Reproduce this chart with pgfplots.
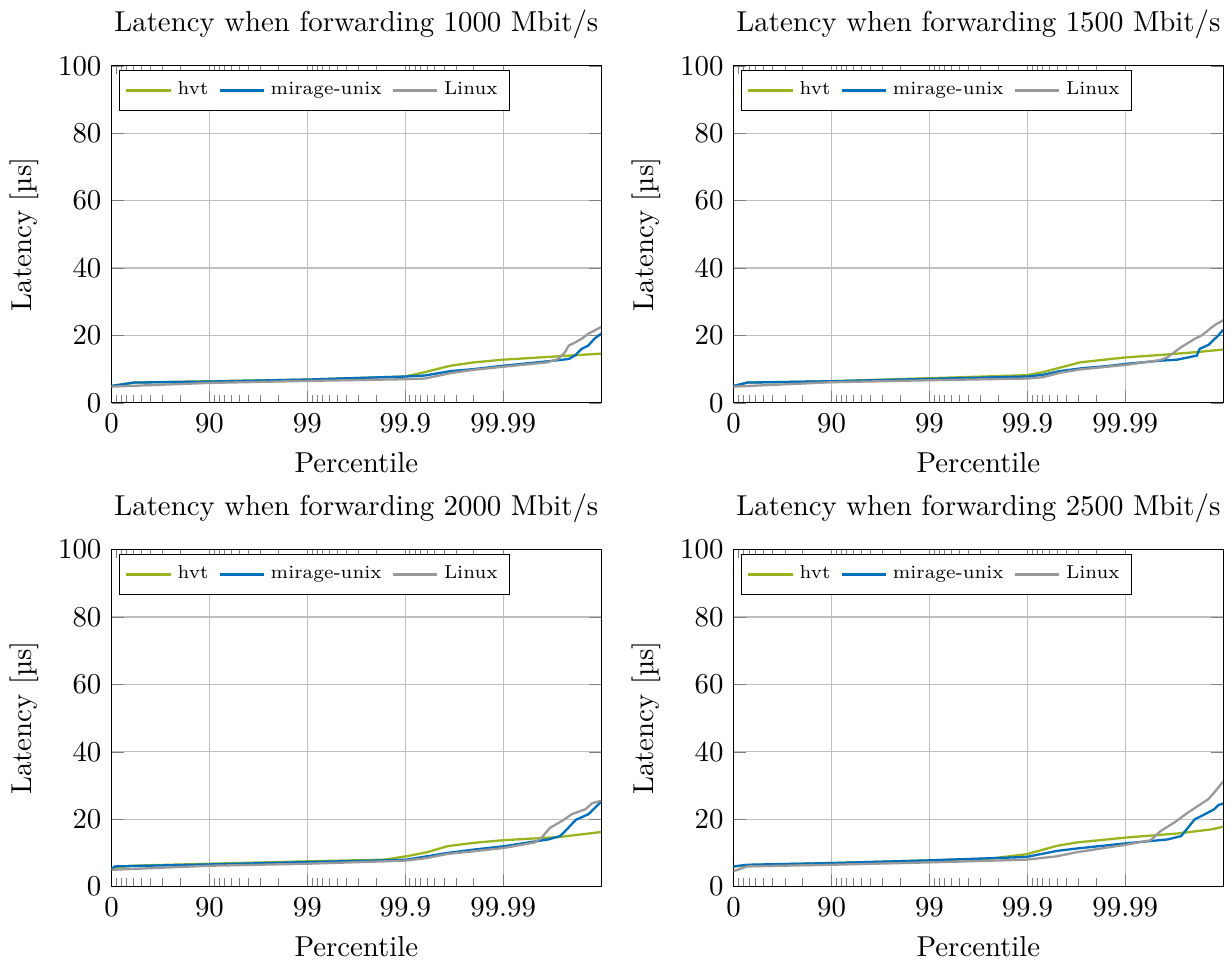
\documentclass[border=0pt]{standalone}
\usepackage{pgfplots}
\pgfplotsset{compat=1.18}
\usepgfplotslibrary{groupplots}

\definecolor{hvtgreen}{RGB}{152,180,30}
\definecolor{uniblue}{RGB}{0,112,190}
\definecolor{linuxgray}{RGB}{153,153,153}

\pgfplotsset{
  latplot/.style={
    scale only axis, width=170pt, height=117pt,
    xmin=0, xmax=5, ymin=0, ymax=100,
    xtick={0,1,2,3,4}, xticklabels={0,90,99,99.9,99.99},
    minor xtick={0.0458,0.0969,0.1549,0.2218,0.3010,0.3979,0.5229,0.6990,
                 1.0458,1.0969,1.1549,1.2218,1.3010,1.3979,1.5229,1.6990,
                 2.0458,2.0969,2.1549,2.2218,2.3010,2.3979,2.5229,2.6990,
                 3.0458,3.0969,3.1549,3.2218,3.3010,3.3979,3.5229,3.6990},
    ytick={0,20,40,60,80,100},
    xmajorgrids, ymajorgrids,
    xlabel={Percentile}, ylabel={Latency [\textmu s]},
    legend columns=3,
    legend image code/.code={\draw[mark repeat=2,mark phase=2] plot coordinates {(0cm,0cm) (0.27cm,0cm) (0.54cm,0cm)};},
    legend style={font=\fontsize{6.5}{7.5}\selectfont, at={(0.015,0.988)}, anchor=north west,
      inner sep=2pt,
      /tikz/every odd column/.append style={column sep=0pt},
      /tikz/every even column/.append style={column sep=1.5pt}},
    every axis plot/.append style={thick, no marks},
  },
}

\begin{document}
\begin{tikzpicture}
\begin{groupplot}[group style={group size=2 by 2, horizontal sep=46pt, vertical sep=51pt}, latplot]

\nextgroupplot[title={Latency when forwarding 1000 Mbit/s}]
\addplot[hvtgreen] coordinates {(0,5.0) (0.23,6.0) (1,6.4) (2,6.9) (3,7.8) (3.2,9.1) (3.46,11.0) (3.7,12.0) (4,12.8) (4.56,13.8) (5,14.6)};
\addplot[uniblue] coordinates {(0,5.0) (0.23,6.0) (1,6.3) (2,6.9) (3,7.8) (3.2,8.1) (3.46,9.4) (3.7,10) (4,11) (4.45,12.3) (4.67,13) (4.74,14.2) (4.8,16) (4.87,17) (4.93,19) (5,20.5)};
\addplot[linuxgray] coordinates {(0,4.8) (1,5.9) (2,6.5) (3,7.0) (3.2,7.2) (3.46,8.8) (3.7,9.8) (4,10.7) (4.45,12) (4.56,13) (4.63,15) (4.67,17) (4.74,18) (4.8,19) (4.87,20.5) (5,22.5)};
\legend{hvt,mirage-unix,Linux}

\nextgroupplot[title={Latency when forwarding 1500 Mbit/s}]
\addplot[hvtgreen] coordinates {(0,5.0) (0.14,6.0) (1,6.4) (2,7.3) (3,8.2) (3.16,9.1) (3.33,10.4) (3.54,12) (3.85,13) (4.02,13.5) (4.36,14.2) (4.71,15) (5,15.8)};
\addplot[uniblue] coordinates {(0,5.0) (0.14,6.0) (1,6.4) (2,7.1) (3,7.8) (3.16,8.3) (3.33,9.4) (3.54,10.2) (3.85,11) (4.02,11.6) (4.36,12.5) (4.53,12.8) (4.73,14) (4.76,16) (4.85,17.2) (4.95,20) (5,21.7)};
\addplot[linuxgray] coordinates {(0,4.8) (1,6.1) (2,6.7) (3,7.2) (3.16,7.6) (3.33,8.9) (3.54,9.9) (3.85,10.8) (4.02,11.3) (4.36,12.7) (4.43,13.5) (4.57,16.5) (4.71,19) (4.78,20) (4.91,23) (5,24.5)};
\legend{hvt,mirage-unix,Linux}

\nextgroupplot[title={Latency when forwarding 2000 Mbit/s}]
\addplot[hvtgreen] coordinates {(0,5.5) (0.2,6.2) (1,6.8) (2,7.5) (2.78,8.0) (3.01,9.0) (3.22,10.2) (3.43,12) (3.7,13) (4.01,13.8) (4.56,14.7) (5,16.2)};
\addplot[uniblue] coordinates {(0,5.0) (0.03,6.0) (1,6.6) (2,7.3) (2.78,7.8) (3.01,8.0) (3.22,9.0) (3.43,10) (3.7,11) (4.01,12) (4.32,13.4) (4.46,14) (4.58,15) (4.65,17) (4.74,19.8) (4.87,21.5) (5,25.2)};
\addplot[linuxgray] coordinates {(0,5.0) (1,6.2) (2,6.8) (3,7.7) (3.22,8.5) (3.43,9.7) (3.7,10.5) (4.01,11.5) (4.32,13.1) (4.39,14.5) (4.48,17.5) (4.6,19.5) (4.7,21.5) (4.84,23) (4.91,24.8) (5,25.5)};
\legend{hvt,mirage-unix,Linux}

\nextgroupplot[title={Latency when forwarding 2500 Mbit/s}]
\addplot[hvtgreen] coordinates {(0,6.0) (0.24,6.5) (1,7.0) (2,7.8) (2.61,8.3) (2.99,9.6) (3.3,12.1) (3.5,13.1) (4.02,14.6) (4.54,15.8) (4.88,17.0) (5,17.8)};
\addplot[uniblue] coordinates {(0,6.0) (0.14,6.5) (1,7.0) (2,7.8) (2.99,8.8) (3.3,10.6) (3.5,11.3) (4.02,12.9) (4.43,14.0) (4.57,15.0) (4.64,17.5) (4.71,20) (4.78,21) (4.91,23) (4.95,24.2) (5,24.7)};
\addplot[linuxgray] coordinates {(0,4.6) (0.14,6.0) (1,6.5) (2,7.2) (2.99,8.0) (3.3,9.0) (3.5,10.2) (4.02,12.5) (4.26,13.8) (4.36,16.5) (4.5,19) (4.64,22) (4.85,26) (4.91,28) (5,31.2)};
\legend{hvt,mirage-unix,Linux}

\end{groupplot}
\end{tikzpicture}
\end{document}
